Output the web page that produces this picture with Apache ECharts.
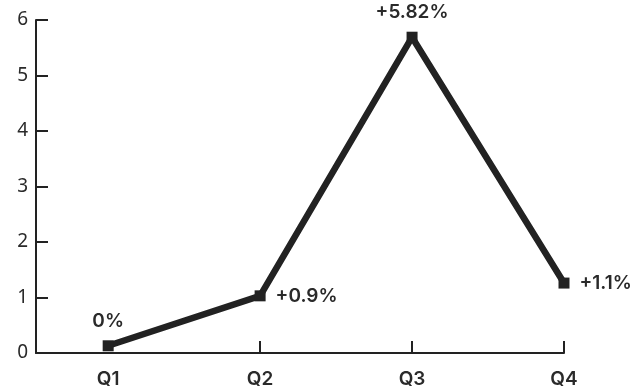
<!DOCTYPE html>
<html>
<head>
<meta charset="utf-8">
<script src="https://cdn.jsdelivr.net/npm/echarts@6/dist/echarts.min.js"></script>
<style>
  html, body { margin: 0; padding: 0; background: #fff; }
  #chart { width: 643px; height: 392px; }
</style>
</head>
<body>
<div id="chart"></div>
<script>
const quarters = ['Q1', 'Q2', 'Q3', 'Q4'];
const values = [0.13, 1.03, 5.69, 1.26];
const valueLabels = ['0%', '+0.9%', '+5.82%', '+1.1%'];
const yTicks = [0, 1, 2, 3, 4, 5, 6];

const ink = '#222';
const labelPos = ['top', 'right', 'top', 'right'];

const chart = echarts.init(document.getElementById('chart'));
chart.setOption({
  animation: false,
  backgroundColor: '#fff',
  grid: { left: 36, right: 79, top: 20, bottom: 39, outerBoundsMode: 'none' },
  xAxis: {
    type: 'value',
    min: -0.475,
    max: quarters.length - 1,
    splitLine: { show: false },
    axisLine: { show: true, onZero: false, lineStyle: { color: ink, width: 2 } },
    axisTick: { show: true, inside: true, length: 12, lineStyle: { color: ink, width: 2 }, customValues: [1, 2, 3] },
    axisLabel: {
      customValues: quarters.map((q, i) => i),
      formatter: v => quarters[Math.round(v)],
      color: '#2a2a2a', fontFamily: 'Inter', fontWeight: 600, fontSize: 19, margin: 17
    }
  },
  yAxis: {
    type: 'value',
    min: yTicks[0],
    max: yTicks[yTicks.length - 1],
    interval: 1,
    splitLine: { show: false },
    axisLine: { show: true, onZero: false, lineStyle: { color: ink, width: 2 } },
    axisTick: { show: true, inside: true, length: 12, lineStyle: { color: ink, width: 2 } },
    axisLabel: { color: '#2a2a2a', fontFamily: 'Noto Sans', fontSize: 19, margin: 8 }
  },
  series: [{
    type: 'line',
    data: values.map((v, i) => ({
      value: [i, v],
      label: { position: labelPos[i], formatter: valueLabels[i] }
    })),
    symbol: 'rect',
    symbolSize: 11,
    lineStyle: { color: ink, width: 6.5 },
    itemStyle: { color: ink },
    label: { show: true, color: '#2a2a2a', fontFamily: 'Inter', fontWeight: 600, fontSize: 19, distance: 10 }
  }]
});
</script>
</body>
</html>
